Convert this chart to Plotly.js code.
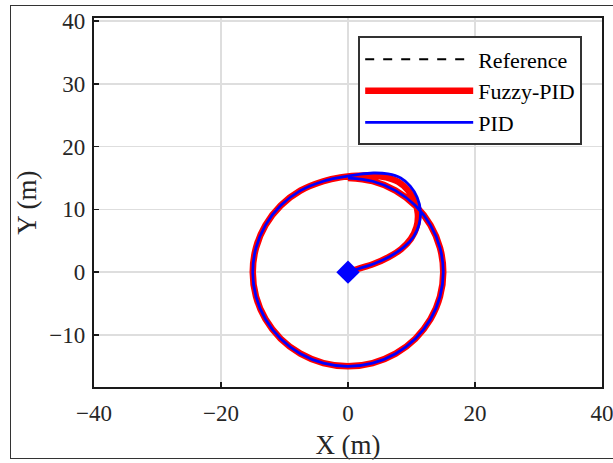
<!DOCTYPE html>
<html>
<head>
<meta charset="utf-8">
<script src="https://cdn.plot.ly/plotly-3.0.1.min.js"></script>
<style>
  html, body { margin: 0; padding: 0; background: #fff; }
  #frame { position: absolute; left: 10px; top: 5px; width: 620px; height: 454px; border: 1.5px solid #333; box-sizing: border-box; pointer-events: none; z-index: 5; }
  #chart { position: absolute; left: 0; top: 0; width: 613px; height: 463px; }
</style>
</head>
<body>
<div id="chart"></div>
<div id="frame"></div>
<script>
// Reference circular path (radius ~15 m)
const refX = [0, -3.88, -7.5, -10.61, -12.99, -14.49, -15, -14.49, -12.99, -10.61, -7.5, -3.88, 0, 3.88, 7.5, 10.61, 12.99, 14.49, 15, 14.49, 12.99, 10.61, 7.5, 3.88, 0];
const refY = [15, 14.49, 12.99, 10.61, 7.5, 3.88, 0, -3.88, -7.5, -10.61, -12.99, -14.49, -15, -14.49, -12.99, -10.61, -7.5, -3.88, 0, 3.88, 7.5, 10.61, 12.99, 14.49, 15];

// Fuzzy-PID trajectory: lead-in from origin, then the circle
const fuzzyLeadX = [0, 1.5, 4, 6.4, 8.4, 9.9, 10.8, 11, 10.5, 9.4, 7.9, 6, 3.8, 1.4, -1.2];
const fuzzyLeadY = [0, 0.5, 1.3, 2.4, 3.7, 5.3, 7.2, 9.3, 11.4, 13.1, 14.4, 15.1, 15.4, 15.35, 15.1];

// PID trajectory: lead-in from origin, then the circle
const pidLeadX = [0, 1.5, 4.1, 6.6, 8.7, 10.3, 11.2, 11.4, 10.9, 9.8, 8.3, 6.3, 4, 1.5, -1.2];
const pidLeadY = [0, 0.5, 1.35, 2.5, 3.9, 5.6, 7.6, 9.8, 11.9, 13.7, 15, 15.65, 15.8, 15.55, 15.1];

// Start point
const startX = [0];
const startY = [0];

const xTicks = [-40, -20, 0, 20, 40];
const yTicks = [-10, 0, 10, 20, 30, 40];

const fuzzyX = fuzzyLeadX.concat(refX.slice(1));
const fuzzyY = fuzzyLeadY.concat(refY.slice(1));
const pidX = pidLeadX.concat(refX.slice(1));
const pidY = pidLeadY.concat(refY.slice(1));

const traces = [
  { x: refX, y: refY, mode: 'lines', name: 'Reference',
    line: { color: '#000', width: 2, dash: 'dash', shape: 'spline', smoothing: 1 } },
  { x: fuzzyX, y: fuzzyY, mode: 'lines', name: 'Fuzzy-PID',
    line: { color: '#ff0000', width: 6.5, shape: 'spline', smoothing: 1 } },
  { x: pidX, y: pidY, mode: 'lines', name: 'PID',
    line: { color: '#0000ff', width: 2.8, shape: 'spline', smoothing: 1 } },
  { x: startX, y: startY, mode: 'markers', showlegend: false,
    marker: { symbol: 'diamond', size: 18, color: '#0000ff', line: { width: 0 } } }
];

const font = { family: '"Liberation Serif", "Times New Roman", serif', color: '#262626' };

const layout = {
  width: 613, height: 463,
  margin: { l: 94, r: 11, t: 18, b: 76, pad: 0 },
  paper_bgcolor: '#fff', plot_bgcolor: '#fff',
  showlegend: true,
  font: Object.assign({ size: 22 }, font),
  xaxis: {
    range: [-40, 40], tickvals: xTicks, ticktext: xTicks.map(v => v < 0 ? '\u2212' + Math.abs(v) : String(v)),
    showgrid: true, gridcolor: '#dedede', gridwidth: 1.5, zeroline: false,
    showline: true, linecolor: '#1a1a1a', linewidth: 2.2, mirror: true,
    ticks: 'inside', ticklen: 5, tickwidth: 1.5, tickcolor: '#1a1a1a',
    tickfont: Object.assign({ size: 23 }, font),
    ticklabelstandoff: 4, ticklabeloverflow: 'allow',
    title: { text: 'X (m)', font: Object.assign({ size: 27 }, font), standoff: 10 }
  },
  yaxis: {
    range: [-18.3, 40.5], tickvals: yTicks, ticktext: yTicks.map(v => v < 0 ? '\u2212' + Math.abs(v) : String(v)),
    showgrid: true, gridcolor: '#dedede', gridwidth: 1.5, zeroline: false,
    showline: true, linecolor: '#1a1a1a', linewidth: 2.2, mirror: true,
    ticks: 'inside', ticklen: 5, tickwidth: 1.5, tickcolor: '#1a1a1a',
    tickfont: Object.assign({ size: 23 }, font),
    ticklabelstandoff: 2, ticklabeloverflow: 'allow',
    title: { text: 'Y (m)', font: Object.assign({ size: 27 }, font), standoff: 5 }
  },
  legend: {
    x: 0.961, xanchor: 'right', y: 0.95, yanchor: 'top',
    bgcolor: '#fff', bordercolor: '#333', borderwidth: 2,
    font: Object.assign({ size: 22 }, font, { color: '#000' }),
    itemwidth: 108, tracegroupgap: 0
  }
};

Plotly.newPlot('chart', traces, layout, { displayModeBar: false, staticPlot: true });
</script>
</body>
</html>
